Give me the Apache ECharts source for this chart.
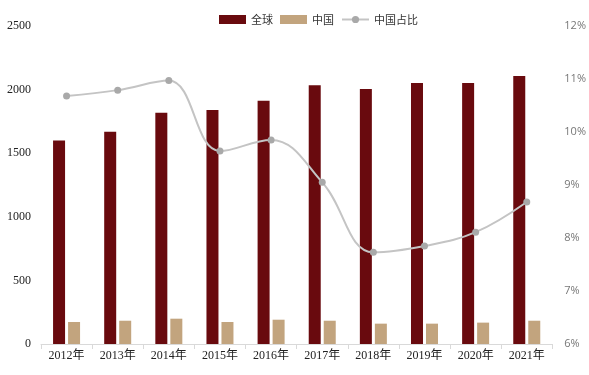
<!DOCTYPE html>
<html><head><meta charset="utf-8">
<script src="https://cdn.jsdelivr.net/npm/echarts@6/dist/echarts.min.js"></script>
<style>html,body{margin:0;padding:0;background:#fff}#c{width:589px;height:375px}</style>
</head><body><div id="c"></div>
<script>
var categories = ['2012年','2013年','2014年','2015年','2016年','2017年','2018年','2019年','2020年','2021年'];
var globalValues = [1600, 1668, 1818, 1840, 1912, 2035, 2005, 2052, 2052, 2107];
var chinaValues = [173, 183, 199, 173, 191, 183, 160, 160, 168, 183];
var chinaShare = [10.68, 10.79, 10.97, 9.64, 9.85, 9.05, 7.73, 7.85, 8.11, 8.68];
var leftTicks = [0, 2500, 500];
var rightTicks = [6, 12, 1];

var chart = echarts.init(document.getElementById('c'));
chart.setOption({
  animation: false,
  legend: {
    top: 9, left: 214, itemWidth: 27, itemHeight: 9, itemGap: 7,
    textStyle: {fontFamily: 'Noto Sans CJK SC', fontSize: 11, color: '#333'},
    data: [{name:'全球', icon:'rect'},{name:'中国', icon:'rect'},{name:'中国占比'}]
  },
  grid: {left: 41, right: 33, top: 26, bottom: 31},
  xAxis: {
    type: 'category', data: categories,
    axisLine: {lineStyle: {color: '#d9d9d9'}},
    axisTick: {show: true, length: 5, lineStyle: {color: '#d9d9d9'}},
    axisLabel: {fontFamily: 'Liberation Serif, Noto Sans CJK SC', fontSize: 12, color: '#222', margin: 6}
  },
  yAxis: [{
    type: 'value', min: leftTicks[0], max: leftTicks[1], interval: leftTicks[2],
    splitLine: {show: false}, axisLine: {show: false}, axisTick: {show: false},
    axisLabel: {formatter: function(v){return String(v);}, fontFamily: 'Liberation Serif', fontSize: 12, color: '#222', margin: 10}
  },{
    type: 'value', min: rightTicks[0], max: rightTicks[1], interval: rightTicks[2],
    splitLine: {show: false}, axisLine: {show: false}, axisTick: {show: false},
    axisLabel: {formatter: '{value}%', fontFamily: 'Open Sans', fontSize: 11, color: '#777', margin: 12}
  }],
  series: [{
    name: '全球', type: 'bar', data: globalValues, barWidth: 12, barGap: '25%',
    itemStyle: {color: '#690a0e'}
  },{
    name: '中国', type: 'bar', data: chinaValues, barWidth: 12,
    itemStyle: {color: '#c2a47e'}
  },{
    name: '中国占比', type: 'line', yAxisIndex: 1, data: chinaShare, smooth: 0.4,
    symbol: 'circle', symbolSize: 7,
    lineStyle: {color: '#c4c4c4', width: 2},
    itemStyle: {color: '#a9a9a9'}
  }]
});
</script></body></html>
